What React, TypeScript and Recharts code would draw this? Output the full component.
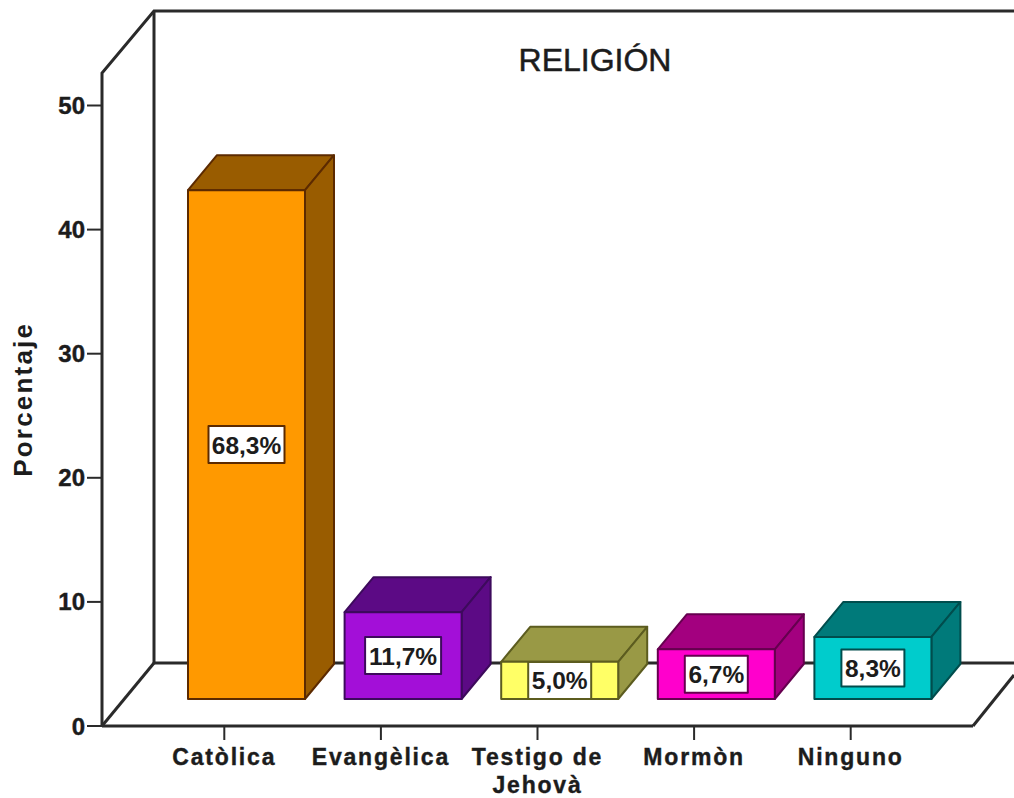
import { BarChart, Bar, XAxis, YAxis } from 'recharts';

const categories = ['Catòlica', 'Evangèlica', 'Testigo de Jehovà', 'Mormòn', 'Ninguno'];
const counts = [41, 7, 3, 4, 5];
const percentLabels = ['68,3%', '11,7%', '5,0%', '6,7%', '8,3%'];
const frontColors = ['#ff9900', '#a30fd8', '#ffff66', '#ff00cc', '#00cccc'];
const sideColors = ['#995c00', '#5c0a85', '#999945', '#a3007f', '#007a7a'];
const edgeColors = ['#5c2a00', '#3d0a5c', '#5c5c1f', '#66004f', '#004d4d'];
const yTicks = [0, 10, 20, 30, 40, 50];

const chartData = categories.map((name, i) => ({
  name,
  count: counts[i],
  label: percentLabels[i],
  front: frontColors[i],
  side: sideColors[i],
  edge: edgeColors[i],
}));

const FONT = '"Liberation Sans", Arial, sans-serif';
const INK = '#1c1c1c';

// bars stand on the floor, which sits back from the axis plane
const FLOOR_DX = 22;
const FLOOR_DY = -27;
const DEPTH_X = 29;
const DEPTH_Y = 35;

function Bar3D(props: any) {
  const { x, y, width, height, payload } = props;
  const l = x + FLOOR_DX;
  const r = l + width;
  const t = y + FLOOR_DY;
  const b = t + height;
  const boxW = payload.label.length > 4 ? 76 : 63;
  const boxH = 37;
  const cx = (l + r) / 2;
  const cy = (t + b) / 2;
  return (
    <g strokeLinejoin="round">
      <polygon
        points={`${l},${t} ${l + DEPTH_X},${t - DEPTH_Y} ${r + DEPTH_X},${t - DEPTH_Y} ${r},${t}`}
        fill={payload.side}
        stroke={payload.edge}
        strokeWidth={2}
      />
      <polygon
        points={`${r},${t} ${r + DEPTH_X},${t - DEPTH_Y} ${r + DEPTH_X},${b - DEPTH_Y} ${r},${b}`}
        fill={payload.side}
        stroke={payload.edge}
        strokeWidth={2}
      />
      <rect x={l} y={t} width={width} height={height} fill={payload.front} stroke={payload.edge} strokeWidth={2} />
      <rect x={cx - boxW / 2} y={cy - boxH / 2} width={boxW} height={boxH} fill="#ffffff" stroke={payload.edge} strokeWidth={2} />
      <text
        x={cx}
        y={cy + 9}
        textAnchor="middle"
        fontFamily={FONT}
        fontWeight="bold"
        fontSize={24.5}
        fill={INK}
      >
        {payload.label}
      </text>
    </g>
  );
}

function CategoryTick(props: any) {
  const { x, y, payload } = props;
  const words = payload.value === 'Testigo de Jehovà' ? ['Testigo de', 'Jehovà'] : [payload.value];
  return (
    <text
      textAnchor="middle"
      fontFamily={FONT}
      fontWeight="bold"
      fontSize={23}
      letterSpacing={1.8}
      fill={INK}
      stroke={INK}
      strokeWidth={0.4}
    >
      {words.map((w, i) => (
        <tspan key={w} x={x} y={y + 23 + i * 28}>
          {w}
        </tspan>
      ))}
    </text>
  );
}

export default function App() {
  return (
    <div style={{ position: 'absolute', left: 0, top: 0, width: 1014, height: 798, background: '#ffffff', overflow: 'hidden' }}>
      <BarChart
        width={1014}
        height={798}
        data={chartData}
        margin={{ top: 105.5, right: 41, bottom: 0, left: 0 }}
      >
        {/* walls and floor */}
        <g fill="none" stroke="#2a2a2a" strokeWidth={3}>
          <polyline points="102,726 102,73 154,11 1014,11" />
          <polyline points="154,11 154,663 1014,663" />
          <polyline points="102,726 154,663" />
          <polyline points="973,726 1014,675" />
        </g>
        <XAxis
          dataKey="name"
          interval={0}
          height={72}
          padding={{ left: 44, right: 44 }}
          axisLine={{ stroke: '#2a2a2a', strokeWidth: 3 }}
          tickLine={{ stroke: '#2a2a2a', strokeWidth: 2 }}
          tickSize={14}
          tick={<CategoryTick />}
        />
        <YAxis
          width={102}
          domain={[0, 50]}
          ticks={yTicks}
          axisLine={false}
          tickLine={{ stroke: '#2a2a2a', strokeWidth: 2 }}
          tickSize={15}
          tick={{ fill: INK, stroke: INK, strokeWidth: 0.4, fontSize: 24, fontWeight: 'bold', fontFamily: FONT }}
          label={{
            value: 'Porcentaje',
            angle: -90,
            position: 'insideLeft',
            offset: 23,
            dy: 61,
            style: { fill: INK, fontSize: 26, fontWeight: 'bold', fontFamily: FONT, letterSpacing: 2.2 },
          }}
        />
        <Bar dataKey="count" barSize={117} isAnimationActive={false} shape={<Bar3D />} />
        <text x={595} y={71} textAnchor="middle" fontFamily={FONT} fontSize={32} fill={INK} stroke={INK} strokeWidth={0.5}>
          RELIGIÓN
        </text>
      </BarChart>
    </div>
  );
}
